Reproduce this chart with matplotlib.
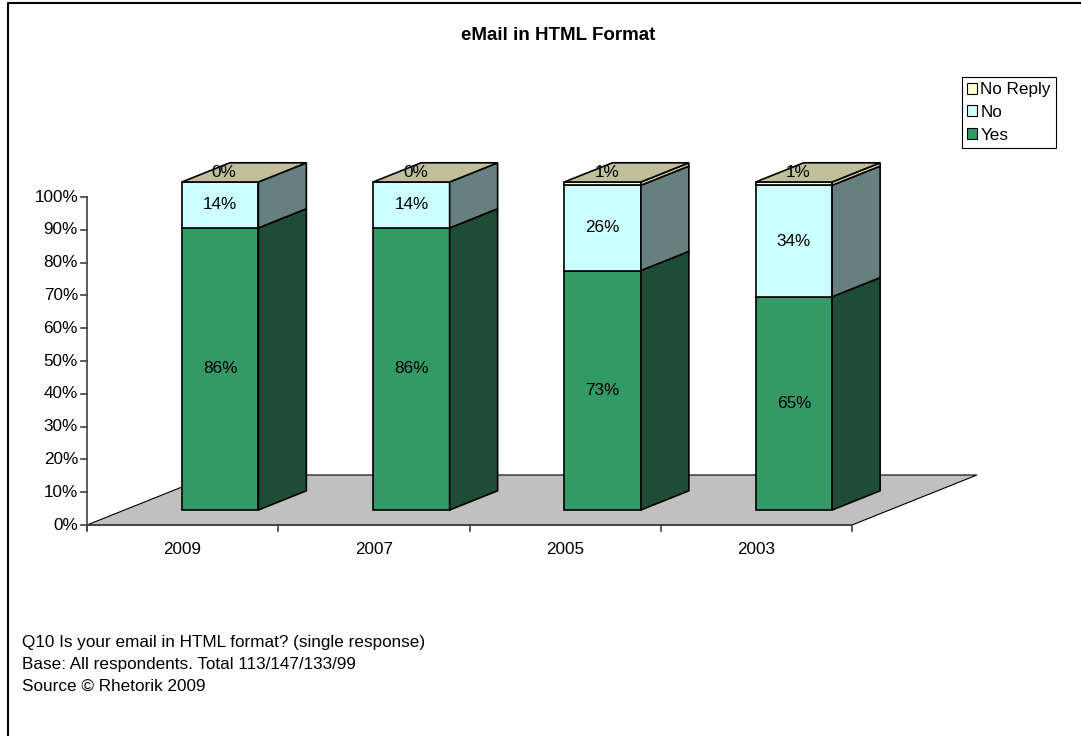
import matplotlib.pyplot as plt
from matplotlib.patches import Polygon, Patch

plt.rcParams['font.family'] = ['Liberation Sans', 'DejaVu Sans']

# Survey results per year (percent of respondents)
years = ['2009', '2007', '2005', '2003']
yes = [86, 86, 73, 65]
no = [14, 14, 26, 34]
no_reply = [0, 0, 1, 1]

series_names = ['Yes', 'No', 'No Reply']
series_values = [yes, no, no_reply]
front_colors = ['#339966', '#CCFFFF', '#FFFFCC']
side_colors = ['#1E4C35', '#668080', '#D8D8A8']
top_color = '#BFBF99'

y_ticks = list(range(0, 101, 10))
footnotes = [
    'Q10 Is your email in HTML format? (single response)',
    'Base: All respondents. Total 113/147/133/99',
    'Source \u00a9 Rhetorik 2009',
]

# pseudo-3D layout (pixel space)
X0, Y0 = 87, 525          # front-left corner of the floor (0%)
CAT_W = 191.25            # width of one category slot
PX_PER_PCT = 3.28
DEPTH_DX, DEPTH_DY = 125, -50
BAR_W = 0.4               # fraction of category slot
D_FRONT, D_BACK = 0.3, 0.684
FS = 12.3


def proj(cat, pct, depth):
    return (X0 + cat * CAT_W + depth * DEPTH_DX,
            Y0 - pct * PX_PER_PCT + depth * DEPTH_DY)


fig = plt.figure(figsize=(10.81, 7.36), dpi=100)
ax = fig.add_axes([0, 0, 1, 1])
ax.set_xlim(0, 1081)
ax.set_ylim(736, 0)
ax.axis('off')

# outer frame (left and top edges visible)
ax.plot([8, 8, 1081], [736, 3, 3], color='black', lw=1.5, solid_capstyle='butt')

ax.text(558, 36, 'eMail in HTML Format', ha='center', va='center',
        fontsize=13.5, fontweight='bold')

# floor
n = len(years)
floor = [proj(0, 0, 0), proj(n, 0, 0), proj(n, 0, 1), proj(0, 0, 1)]
ax.add_patch(Polygon(floor, closed=True, facecolor='#C0C0C0',
                     edgecolor='black', lw=0.8, zorder=1))

# value axis
ax.plot([X0, X0], [Y0 + 5, Y0 - 100 * PX_PER_PCT], color='#404040', lw=1.2, zorder=3)
for t in y_ticks:
    yy = Y0 - t * PX_PER_PCT
    ax.plot([X0 - 6, X0], [yy, yy], color='#404040', lw=1.2, zorder=3)
    ax.text(X0 - 9, yy, f'{t}%', ha='right', va='center', fontsize=FS)

# category axis
ax.plot([X0, X0 + n * CAT_W], [Y0, Y0], color='#404040', lw=1.2, zorder=3)
for i in range(n + 1):
    xx = X0 + i * CAT_W
    ax.plot([xx, xx], [Y0, Y0 + 6], color='#404040', lw=1.2, zorder=3)
for i, yr in enumerate(years):
    ax.text(X0 + (i + 0.5) * CAT_W, Y0 + 24, yr, ha='center', va='center', fontsize=FS)

# stacked 3D bars
for i in range(n):
    x_l = i + 0.5 - BAR_W / 2
    x_r = i + 0.5 + BAR_W / 2
    base = 0
    for s, vals in enumerate(series_values):
        v = vals[i]
        top = base + v
        if v > 0:
            front = [proj(x_l, base, D_FRONT), proj(x_r, base, D_FRONT),
                     proj(x_r, top, D_FRONT), proj(x_l, top, D_FRONT)]
            side = [proj(x_r, base, D_FRONT), proj(x_r, base, D_BACK),
                    proj(x_r, top, D_BACK), proj(x_r, top, D_FRONT)]
            ax.add_patch(Polygon(front, closed=True, facecolor=front_colors[s],
                                 edgecolor='black', lw=1.2, zorder=5))
            ax.add_patch(Polygon(side, closed=True, facecolor=side_colors[s],
                                 edgecolor='black', lw=1.2, zorder=5))
        base = top
    cap = [proj(x_l, base, D_FRONT), proj(x_r, base, D_FRONT),
           proj(x_r, base, D_BACK), proj(x_l, base, D_BACK)]
    ax.add_patch(Polygon(cap, closed=True, facecolor=top_color,
                         edgecolor='black', lw=1.2, zorder=5))

    # value labels
    base = 0
    for s, vals in enumerate(series_values):
        v = vals[i]
        mid = base + v / 2 if v >= 3 else base + v + 3
        lx, ly = proj(i + 0.5, mid, D_FRONT)
        if v < 3:
            lx += 4
        ax.text(lx, ly, f'{v}%', ha='center', va='center', fontsize=FS, zorder=6)
        base += v

# legend
handles = [Patch(facecolor=front_colors[s], edgecolor='black', lw=0.8, label=series_names[s])
           for s in (2, 1, 0)]
leg = ax.legend(handles=handles, loc='upper right',
                bbox_to_anchor=(1056 / 1081, 1 - 77 / 736), bbox_transform=fig.transFigure,
                frameon=True, fancybox=False, edgecolor='black', framealpha=1,
                fontsize=FS, handlelength=0.6, handleheight=0.6, handletextpad=0.2,
                borderpad=0.3, labelspacing=0.45, borderaxespad=0)
leg.get_frame().set_linewidth(0.8)

for k, line in enumerate(footnotes):
    ax.text(22, 643 + k * 21.5, line, ha='left', va='center', fontsize=FS)

fig.savefig('out.png', dpi=100)
